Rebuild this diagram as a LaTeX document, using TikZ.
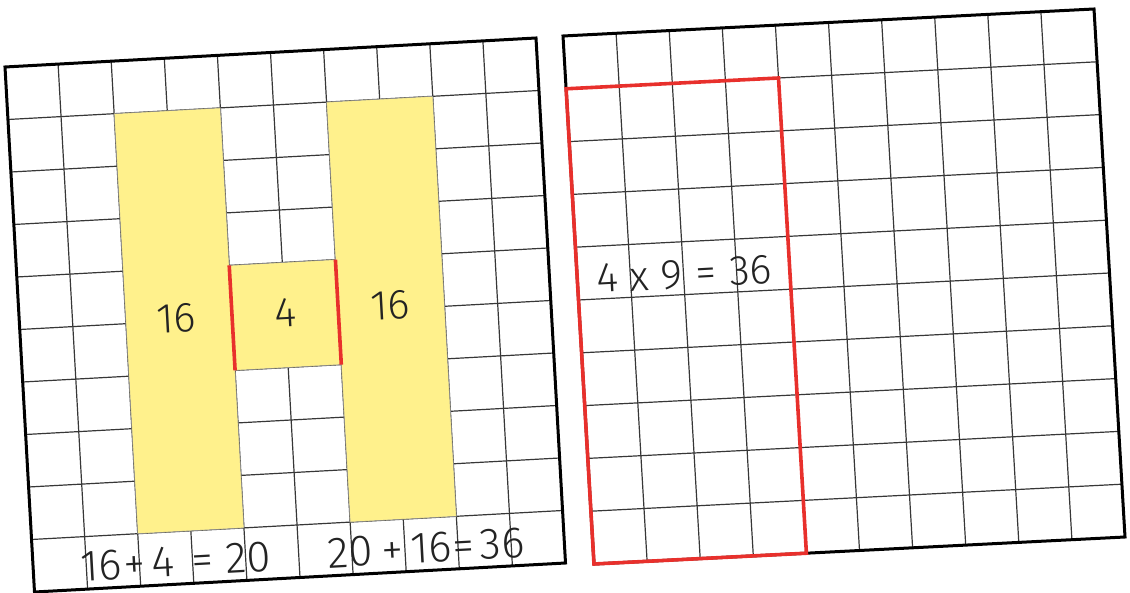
\documentclass[tikz,border=0pt]{standalone}
\usepackage{fontspec}
\newfontfamily\hand{Fira Sans Light}
\definecolor{hyellow}{RGB}{255,241,140}
\definecolor{hred}{RGB}{232,48,44}
\definecolor{gridgray}{RGB}{55,55,55}
\definecolor{inkgray}{RGB}{35,35,35}
\begin{document}
\begin{tikzpicture}[
  gridline/.style={draw=gridgray, line width=1.2pt},
  borderline/.style={draw=black, line width=3pt, line join=miter},
  redline/.style={draw=hred, line width=3.6pt, line join=miter},
  yfill/.style={fill=hyellow, draw=gridgray!55, line width=0.6pt},
  lbl/.style={font=\hand\fontsize{42}{48}\selectfont, text=inkgray, inner sep=0pt, anchor=base, rotate=3.1},
  eqlbl/.style={lbl, font=\hand\fontsize{44}{50}\selectfont},
]
\useasboundingbox (0,0) rectangle (1130pt,-593pt);
% ---------- left grid ----------
\begin{scope}[shift={(5pt,-67pt)}, x={(53.1pt,2.9pt)}, y={(2.95pt,-52.5pt)}]
  \foreach \i in {1,...,9} {
    \draw[gridline] (\i,0) -- (\i,10);
    \draw[gridline] (0,\i) -- (10,\i);
  }
  \path[yfill] (2,1) -- (4,1) -- (4,9) -- (2,9) -- cycle;
  \path[yfill] (6,1) -- (8,1) -- (8,9) -- (6,9) -- cycle;
  \path[yfill] (4,4) -- (6,4) -- (6,6) -- (4,6) -- cycle;
  \draw[redline] (4,4) -- (4,6);
  \draw[redline] (6,4) -- (6,6);
  \draw[borderline] (0,0) -- (10,0) -- (10,10) -- (0,10) -- cycle;
  \node[lbl] (lA) at (2.95,5.21) {16};
  \node[lbl] (lB) at (5,5.23) {4};
  \node[lbl] (lC) at (6.98,5.20) {16};
  \node[eqlbl] (e1a) at (1.28,9.85) {16};
  \node[eqlbl] (e1b) at (1.90,9.85) {+};
  \node[eqlbl] (e1c) at (2.45,9.85) {4};
  \node[eqlbl] (e1d) at (3.18,9.85) {=};
  \node[eqlbl] (e1e) at (4.05,9.85) {20};
  \node[eqlbl] (e2a) at (5.97,9.85) {20};
  \node[eqlbl] (e2b) at (6.76,9.85) {+};
  \node[eqlbl] (e2c) at (7.49,9.85) {16};
  \node[eqlbl] (e2d) at (8.10,9.85) {=};
  \node[eqlbl] (e2e) at (8.83,9.85) {36};
\end{scope}
% ---------- right grid ----------
\begin{scope}[shift={(563pt,-36pt)}, x={(53.1pt,2.7pt)}, y={(3.1pt,-52.8pt)}]
  \foreach \i in {1,...,9} {
    \draw[gridline] (\i,0) -- (\i,10);
    \draw[gridline] (0,\i) -- (10,\i);
  }
  \draw[borderline] (0,0) -- (10,0) -- (10,10) -- (0,10) -- cycle;
  \draw[redline] (0,1) -- (4,1) -- (4,10) -- (0,10) -- cycle;
  \node[lbl] (r1) at (0.56,4.88) {4};
  \node[lbl] (r2) at (1.17,4.88) {x};
  \node[lbl] (r3) at (1.78,4.88) {9};
  \node[lbl] (r4) at (2.42,4.88) {=};
  \node[lbl] (r5) at (3.27,4.88) {36};
\end{scope}
\end{tikzpicture}
\end{document}
